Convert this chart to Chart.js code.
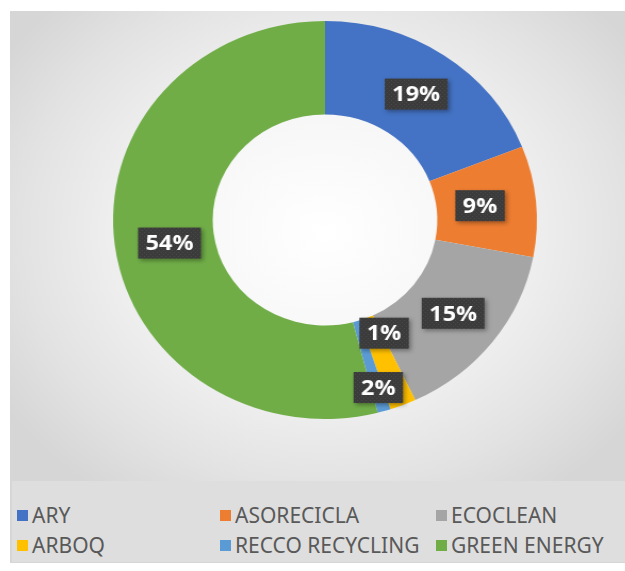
<!DOCTYPE html>
<html>
<head>
<meta charset="utf-8">
<script src="https://cdn.jsdelivr.net/npm/chart.js@4.4.0/dist/chart.umd.min.js"></script>
<style>
	html, body { margin: 0; padding: 0; background: #fff; width: 625px; height: 571px; overflow: hidden; }
	.frame {
		position: absolute; left: 10px; top: 11px; width: 615px; height: 552px;
		background: radial-gradient(ellipse 62% 58% at 51% 40%, #ffffff 0%, #f6f6f6 40%, #e2e2e2 80%, #d6d6d6 100%);
		overflow: hidden;
	}
	.chart-box { position: absolute; left: 0; top: 0; width: 615px; height: 470px; transform: scaleX(1.065); transform-origin: 315px 50%; }
	.legend { position: absolute; left: 2px; top: 470px; width: 613px; height: 81px; background: #dedede; font-family: 'Noto Sans', sans-serif; font-size: 21px; color: #595959; }
	.legend-item { position: absolute; display: flex; align-items: center; white-space: nowrap; }
	.legend-item span.box { display: inline-block; width: 11px; height: 11px; margin-right: 4px; }
</style>
</head>
<body>
<div class="frame">
	<div class="chart-box"><canvas id="myChart"></canvas></div>
	<div class="legend"></div>
</div>
<script>
'use strict';

const companies = ['ARY', 'ASORECICLA', 'ECOCLEAN', 'ARBOQ', 'RECCO RECYCLING', 'GREEN ENERGY'];
const shares = [19, 9, 15, 2, 1, 54];
const colors = ['#4472C4', '#ED7D31', '#A5A5A5', '#FFC000', '#5B9BD5', '#70AD47'];

const legend = document.querySelector('.legend');
const colLeft = [5, 208, 424];
const rowTop = [34, 64];

// small slices: move their labels apart like the original
const labelShift = { 3: [-6, 26], 4: [13, -33] };

const makeTexture = () => {
	const c = document.createElement('canvas');
	c.width = 4;
	c.height = 4;
	const g = c.getContext('2d');
	g.fillStyle = '#3b3b3b';
	g.fillRect(0, 0, 4, 4);
	g.fillStyle = '#4a4a4a';
	g.fillRect(1, 1, 1, 1);
	g.fillRect(3, 3, 1, 1);
	return c;
};

const boxLabels = {
	id: 'boxLabels',
	afterDatasetsDraw(chart) {
		const ctx = chart.ctx;
		const meta = chart.getDatasetMeta(0);
		const pattern = ctx.createPattern(makeTexture(), 'repeat');
		ctx.save();
		ctx.font = 'bold 22px "Open Sans", sans-serif';
		ctx.textAlign = 'center';
		ctx.textBaseline = 'middle';
		meta.data.forEach((arc, i) => {
			const p = arc.getProps(['x', 'y', 'startAngle', 'endAngle', 'innerRadius', 'outerRadius']);
			const a = (p.startAngle + p.endAngle) / 2;
			const r = (p.innerRadius + p.outerRadius) / 2;
			let x = p.x + Math.cos(a) * r;
			let y = p.y + Math.sin(a) * r;
			if (labelShift[i]) {
				x += labelShift[i][0];
				y += labelShift[i][1];
			}
			if (i === 5) {
				x += 5;
				y += 4;
			}
			if (i === 1) x -= 6;
			const text = shares[i] + '%';
			const w = ctx.measureText(text).width + 14;
			const h = 31;
			ctx.shadowColor = 'rgba(0,0,0,0.35)';
			ctx.shadowBlur = 4;
			ctx.shadowOffsetX = 2;
			ctx.shadowOffsetY = 2;
			ctx.fillStyle = pattern;
			ctx.fillRect(x - w / 2, y - h / 2, w, h);
			ctx.shadowColor = 'transparent';
			ctx.fillStyle = '#ffffff';
			ctx.fillText(text, x, y + 1);
		});
		ctx.restore();
	},
};

const buildLegend = () => {
	for (let i = 0; i < companies.length; i++) {
		const col = i % 3;
		const row = Math.floor(i / 3);
		legend.innerHTML += `<div class="legend-item" style="left:${colLeft[col]}px;top:${rowTop[row] - 14}px;height:28px"><span class="box" style="background:${colors[i]}"></span>${companies[i]}</div>`;
	}
};

const drawChart = () => {
	const ctx = document.getElementById('myChart').getContext('2d');
	let shareChart = new Chart(ctx, {
		type: 'doughnut',
		data: {
			labels: companies,
			datasets: [
				{
					data: shares,
					backgroundColor: colors,
					borderWidth: 0,
					hoverOffset: 0,
				},
			],
		},
		options: {
			responsive: true,
			maintainAspectRatio: false,
			animation: false,
			events: [],
			cutout: '53%',
			layout: { padding: { left: 15, right: 0, top: 10, bottom: 62 } },
			plugins: {
				legend: { display: false },
				tooltip: { enabled: false },
			},
		},
		plugins: [boxLabels],
	});
};

window.addEventListener('DOMContentLoaded', () => {
	buildLegend();
	drawChart();
});
</script>
</body>
</html>
